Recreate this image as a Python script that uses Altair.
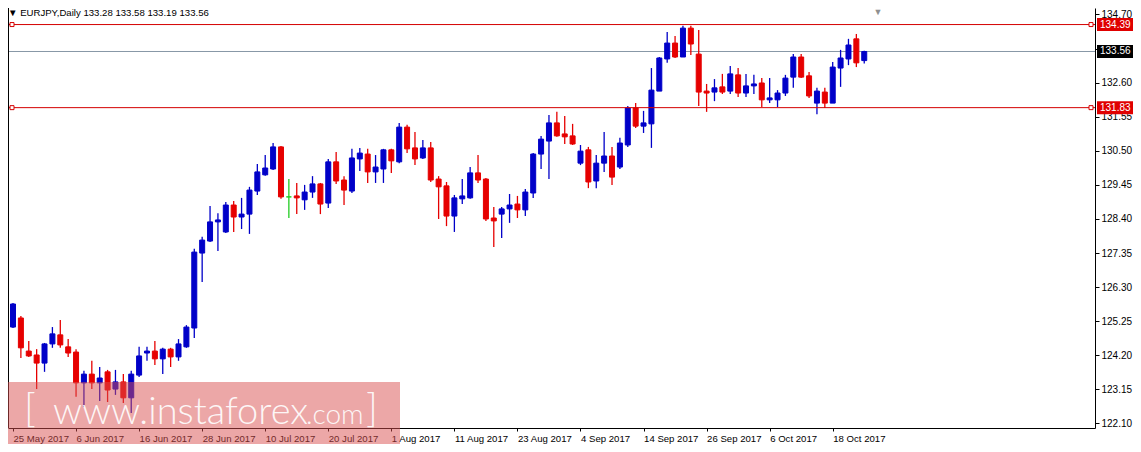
import altair as alt
import pandas as pd

# ---------------- data ----------------
opens = [125.07, 125.35, 124.33, 124.21, 123.96, 124.55, 124.83, 124.46, 124.30, 123.35,
         123.62, 123.35, 123.69, 123.16, 123.38, 122.89, 123.59, 124.27, 124.33, 124.09,
         124.39, 124.15, 124.46, 125.04, 127.35, 127.72, 128.31, 128.00, 128.83, 128.46,
         128.55, 129.26, 129.76, 129.94, 130.62, 129.08, 129.11, 128.99, 129.23, 129.48,
         128.89, 130.16, 129.60, 129.26, 130.25, 130.40, 129.85, 129.94, 130.53, 130.16,
         131.23, 130.59, 130.28, 130.59, 129.63, 129.42, 128.49, 129.02, 129.05, 129.82,
         129.63, 128.43, 128.55, 128.71, 128.86, 128.68, 129.20, 130.40, 130.80, 131.36,
         131.02, 130.96, 130.12, 130.53, 129.57, 130.12, 130.34, 130.00, 130.68, 131.82,
         131.26, 131.33, 132.34, 133.33, 133.82, 133.39, 134.28, 133.48, 132.34, 132.31,
         132.47, 132.34, 132.84, 132.28, 132.50, 132.59, 132.07, 132.07, 132.28, 132.77,
         133.39, 132.81, 131.97, 132.31, 131.97, 133.05, 133.33, 133.95, 133.28]
highs = [125.81, 125.41, 124.64, 124.39, 124.58, 125.07, 125.29, 124.70, 124.39, 123.72,
         124.03, 123.84, 123.75, 123.75, 123.62, 123.72, 124.46, 124.46, 124.64, 124.43,
         124.43, 124.70, 125.13, 127.48, 127.85, 128.80, 128.58, 128.92, 128.95, 129.05,
         129.39, 130.09, 130.37, 130.74, 130.65, 129.63, 129.51, 129.45, 129.72, 129.51,
         130.25, 130.46, 129.72, 130.56, 130.59, 130.56, 130.37, 130.56, 130.56, 131.36,
         131.30, 131.08, 130.83, 130.77, 129.72, 129.54, 129.14, 129.63, 130.00, 130.37,
         129.66, 128.77, 128.77, 129.17, 129.11, 129.32, 130.43, 130.96, 131.60, 131.70,
         131.57, 131.33, 130.68, 130.62, 130.37, 131.08, 130.62, 130.90, 131.88, 131.97,
         131.73, 133.05, 133.39, 134.16, 134.04, 134.35, 134.35, 134.22, 132.56, 132.71,
         132.87, 133.11, 133.05, 132.87, 132.84, 132.74, 132.74, 132.37, 132.84, 133.48,
         133.48, 132.93, 132.44, 132.44, 133.24, 133.61, 133.95, 134.10, 133.58]
lows = [125.04, 124.12, 124.15, 123.16, 123.69, 124.43, 124.43, 124.15, 122.92, 122.61,
        123.16, 122.79, 122.76, 122.98, 122.73, 122.42, 123.53, 124.03, 123.90, 123.62,
        123.84, 124.03, 124.43, 124.73, 126.46, 127.69, 127.41, 127.97, 128.00, 128.09,
        127.94, 129.14, 129.73, 129.91, 129.02, 128.43, 128.55, 128.68, 129.05, 128.55,
        128.74, 129.48, 128.83, 129.20, 129.88, 129.51, 129.51, 129.51, 129.82, 130.12,
        130.43, 130.06, 130.25, 129.54, 128.40, 128.18, 128.00, 128.86, 129.02, 129.51,
        128.34, 127.54, 127.81, 128.28, 128.43, 128.49, 129.05, 129.94, 129.63, 130.93,
        130.71, 130.68, 130.06, 129.35, 129.35, 129.85, 129.45, 129.94, 130.62, 131.20,
        131.05, 130.59, 132.34, 133.21, 133.36, 133.39, 133.45, 131.88, 131.70, 132.03,
        132.25, 132.25, 132.16, 132.16, 132.25, 131.85, 131.97, 131.85, 132.19, 132.44,
        132.74, 132.13, 131.63, 131.82, 131.97, 132.47, 133.14, 133.08, 133.19]
closes = [125.78, 124.43, 124.18, 123.96, 124.55, 124.86, 124.52, 124.27, 123.35, 123.62,
          123.35, 123.50, 123.13, 123.38, 122.89, 123.62, 124.18, 124.33, 124.09, 124.39,
          124.15, 124.55, 125.07, 127.38, 127.75, 128.31, 128.37, 128.83, 128.46, 128.55,
          129.29, 129.85, 129.97, 130.62, 129.08, 129.08, 129.05, 129.23, 129.48, 128.86,
          130.16, 129.57, 129.29, 130.28, 130.43, 129.85, 130.00, 130.53, 130.19, 131.23,
          130.56, 130.25, 130.59, 129.60, 129.39, 128.49, 129.05, 129.11, 129.82, 129.60,
          128.40, 128.34, 128.71, 128.83, 128.68, 129.23, 130.40, 130.86, 131.36, 130.96,
          130.93, 130.71, 130.49, 129.54, 130.12, 130.34, 129.69, 130.74, 131.82, 131.26,
          131.36, 132.37, 133.36, 133.82, 133.39, 134.28, 133.79, 132.31, 132.28, 132.44,
          132.31, 132.87, 132.28, 132.50, 132.56, 132.07, 132.13, 132.28, 132.74, 133.39,
          132.77, 132.19, 132.34, 131.97, 133.08, 133.36, 133.76, 133.21, 133.56]

tick_labels = ["25 May 2017", "6 Jun 2017", "16 Jun 2017", "28 Jun 2017", "10 Jul 2017",
               "20 Jul 2017", "1 Aug 2017", "11 Aug 2017", "23 Aug 2017", "4 Sep 2017",
               "14 Sep 2017", "26 Sep 2017", "6 Oct 2017", "18 Oct 2017"]
bars_per_label = 8
price_ticks = [122.10, 123.15, 124.20, 125.25, 126.30, 127.35, 128.40, 129.45,
               130.50, 131.55, 132.60, 133.65, 134.70]
hidden_tick = 133.65  # covered by the bid-price box in the reference
levels = [134.39, 131.83]
bid = 133.56
header = "\u25bc EURJPY,Daily  133.28 133.58 133.19 133.56"

# ---------------- tables ----------------
df = pd.DataFrame({"i": list(range(len(opens))), "o": opens, "h": highs, "l": lows, "c": closes})
df["top"] = df[["o", "c"]].max(axis=1)
df["bot"] = df[["o", "c"]].min(axis=1)
df["dir"] = ["up" if c > o else ("down" if c < o else "doji") for o, c in zip(opens, closes)]

lev_df = pd.DataFrame({"p": levels})
bid_df = pd.DataFrame({"p": [bid]})
box_df = pd.DataFrame({"p": [levels[0], bid, levels[1]],
                       "bg": ["#e00000", "#000000", "#e00000"]})
box_df["t"] = [f"{v:.2f}" for v in box_df["p"]]
one = pd.DataFrame({"a": [0]})

# ---------------- styling ----------------
W, H = 1087, 420
PAD_R = 38
FONT = "Liberation Sans"
RED = "#d40000"
SPACING = 7.955  # pixels per daily bar

xs = alt.Scale(domain=[0, W / SPACING], nice=False, zero=False)
ys = alt.Scale(domain=[121.96, 134.90], nice=False, zero=False)
cs = alt.Scale(domain=["up", "down", "doji"], range=["#0000c8", "#e60000", "#22cc22"])

label_expr = "[" + ",".join(f"'{t}'" for t in tick_labels) + f"][round(datum.value/{bars_per_label})]"
xaxis = alt.Axis(values=[k * bars_per_label for k in range(len(tick_labels))],
                 labelExpr=label_expr, orient="bottom", grid=False, title=None,
                 domainColor="black", tickColor="black", tickSize=3,
                 labelAlign="left", labelBaseline="top", labelPadding=2,
                 labelFont=FONT, labelFontSize=9.6, labelColor="black",
                 labelFlush=False, labelOverlap=False)
yaxis = alt.Axis(values=price_ticks,
                 labelExpr=f"abs(datum.value - {hidden_tick}) < 0.001 ? '' : format(datum.value, '.2f')",
                 orient="right", grid=False, title=None,
                 domainColor="black", tickColor="black", tickSize=4, labelPadding=2,
                 labelFont=FONT, labelFontSize=10, labelColor="black",
                 labelFlush=False, labelOverlap=False)

X = alt.X("i:Q", scale=xs, axis=xaxis)
col = alt.Color("dir:N", scale=cs, legend=None)

bid_line = alt.Chart(bid_df).mark_rule(color="#8797a6", strokeWidth=1).encode(
    y=alt.Y("p:Q", scale=ys, axis=yaxis))

wicks = alt.Chart(df).mark_rule(strokeWidth=1.3).encode(
    x=X, y=alt.Y("l:Q", scale=ys, axis=yaxis), y2="h:Q", color=col)

bodies = alt.Chart(df).mark_bar(size=5, strokeWidth=1).encode(
    x=X, y=alt.Y("top:Q", scale=ys, axis=yaxis), y2="bot:Q", color=col,
    stroke=alt.Stroke("dir:N", scale=cs, legend=None))

lev_lines = alt.Chart(lev_df).mark_rule(color=RED, strokeWidth=1).encode(
    y=alt.Y("p:Q", scale=ys, axis=yaxis))

sq_left = alt.Chart(lev_df).mark_point(shape="square", size=16, fill="white", fillOpacity=1,
                                       stroke=RED, strokeWidth=1, opacity=1).encode(
    x=alt.value(4), y=alt.Y("p:Q", scale=ys, axis=yaxis))
sq_right = alt.Chart(lev_df).mark_point(shape="square", size=16, fill="white", fillOpacity=1,
                                        stroke=RED, strokeWidth=1, opacity=1).encode(
    x=alt.value(W - 4), y=alt.Y("p:Q", scale=ys, axis=yaxis))

boxes = alt.Chart(box_df).transform_calculate(
    y1="datum.p + 0.2", y2="datum.p - 0.2").mark_rect().encode(
    x=alt.value(W + 2), x2=alt.value(W + PAD_R),
    y=alt.Y("y1:Q", scale=ys, axis=yaxis), y2="y2:Q",
    color=alt.Color("bg:N", scale=None))
box_text = alt.Chart(box_df).mark_text(align="left", baseline="middle", color="white",
                                       font=FONT, fontSize=10).encode(
    x=alt.value(W + 5), y=alt.Y("p:Q", scale=ys, axis=yaxis), text="t:N")

head = alt.Chart(pd.DataFrame({"t": [header]})).mark_text(
    align="left", baseline="top", font=FONT, fontSize=9.6, color="black").encode(
    x=alt.value(0), y=alt.value(0), text="t:N")
shift_mark = alt.Chart(one).mark_text(text="\u25bc", fontSize=9, color="#909090",
                                      baseline="top").encode(x=alt.value(870), y=alt.value(0))
left_border = alt.Chart(one).mark_rule(color="black", strokeWidth=1).encode(x=alt.value(0.5))

wm_rect = alt.Chart(one).mark_rect(color="#d94f4f", opacity=0.5).encode(
    x=alt.value(-5), x2=alt.value(392), y=alt.value(374), y2=alt.value(445))
wm_style = dict(font="Lato", fontWeight=300, color="white", opacity=0.9,
                baseline="alphabetic", align="left")
wm1 = alt.Chart(one).mark_text(text="[", fontSize=40, **wm_style).encode(
    x=alt.value(16), y=alt.value(414))
wm2 = alt.Chart(one).mark_text(text="www.instaforex", fontSize=38, **wm_style).encode(
    x=alt.value(45), y=alt.value(416))
wm3 = alt.Chart(one).mark_text(text=".com", fontSize=28, **wm_style).encode(
    x=alt.value(298), y=alt.value(416))
wm4 = alt.Chart(one).mark_text(text="]", fontSize=40, **wm_style).encode(
    x=alt.value(358), y=alt.value(414))

chart = alt.layer(
    bid_line, wicks, bodies, lev_lines, sq_left, sq_right, boxes, box_text,
    head, shift_mark, left_border, wm_rect, wm1, wm2, wm3, wm4
).properties(
    width=W, height=H,
    padding={"left": 0, "top": 0, "right": PAD_R, "bottom": 16},
    autosize=alt.AutoSizeParams(type="none"),
    background="white",
).configure_view(stroke=None)

chart.save("out.html", embed_options={"renderer": "svg", "actions": False})
